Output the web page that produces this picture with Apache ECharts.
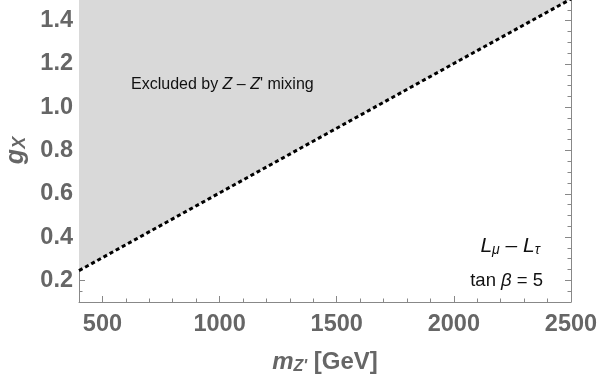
<!DOCTYPE html>
<html><head><meta charset="utf-8">
<script src="https://cdn.jsdelivr.net/npm/echarts@6/dist/echarts.min.js"></script>
<style>html,body{margin:0;padding:0;background:#fff}#c{width:599px;height:383px}</style>
</head><body><div id="c"></div>
<script>
// Boundary of the Z - Z' mixing exclusion (m_Z' in GeV, g_X)
const mass = [400, 1000, 1500, 2000, 2500];
const gX = [0.245, 0.604, 0.903, 1.202, 1.50];
// Ticks
const xMajorTicks = [500, 1000, 1500, 2000, 2500];
const xMinorTicks = [500, 600, 700, 800, 900, 1000, 1100, 1200, 1300, 1400, 1500, 1600, 1700, 1800, 1900, 2000, 2100, 2200, 2300, 2400, 2500];
const yMajorTicks = [0.2, 0.4, 0.6, 0.8, 1.0, 1.2, 1.4];
const yMinorTicks = [0.15, 0.2, 0.25, 0.3, 0.35, 0.4, 0.45, 0.5, 0.55, 0.6, 0.65, 0.7, 0.75, 0.8, 0.85, 0.9, 0.95, 1.0, 1.05, 1.1, 1.15, 1.2, 1.25, 1.3, 1.35, 1.4, 1.45];
const xRange = [400, 2500];
const yRange = [0.1, 1.5];

const FONT = '"Liberation Sans", Arial, sans-serif';
const AX = '#888888';
const LBL = '#666666';

function xAx(pos, major, show) {
  return {
    type: 'value', position: pos, min: xRange[0], max: xRange[1],
    axisLine: { show: show, lineStyle: { color: AX, width: 1 } },
    axisTick: { show: true, inside: true, length: major ? 6 : 3.5, customValues: major ? xMajorTicks : xMinorTicks, lineStyle: { color: AX, width: 1 } },
    axisLabel: { show: false },
    splitLine: { show: false }
  };
}
function yAx(pos, major, show) {
  return {
    type: 'value', position: pos, min: yRange[0], max: yRange[1],
    axisLine: { show: show, lineStyle: { color: AX, width: 1 } },
    axisTick: { show: true, inside: true, length: major ? 6 : 3.5, customValues: major ? yMajorTicks : yMinorTicks, lineStyle: { color: AX, width: 1 } },
    axisLabel: { show: false },
    splitLine: { show: false }
  };
}

const xMain = xAx('bottom', true, true);
xMain.axisLabel = { show: true, customValues: xMajorTicks, color: LBL, fontFamily: FONT, fontWeight: 'bold', fontSize: 23.5, margin: 11, formatter: v => String(v) };
xMain.name = '{m|m}{sub|Z\'}{u|\u00a0[GeV]}';
xMain.nameLocation = 'middle';
xMain.nameGap = 48;
xMain.nameTextStyle = {
  rich: {
    m: { fontFamily: FONT, fontSize: 24, fontStyle: 'italic', fontWeight: 'bold', color: LBL },
    sub: { fontFamily: FONT, fontSize: 16, fontStyle: 'italic', fontWeight: 'bold', color: LBL, padding: [9, 0, 0, 0] },
    u: { fontFamily: FONT, fontSize: 24, fontWeight: 'bold', color: LBL }
  }
};

const yMain = yAx('left', true, true);
yMain.axisLabel = { show: true, customValues: yMajorTicks, color: LBL, fontFamily: FONT, fontWeight: 'bold', fontSize: 23.5, margin: 6, formatter: v => v.toFixed(1) };
yMain.name = '{g|g}{sub|X}';
yMain.nameLocation = 'middle';
yMain.nameRotate = 90;
yMain.nameGap = 43;
yMain.nameTextStyle = {
  rich: {
    g: { fontFamily: FONT, fontSize: 25, fontStyle: 'italic', fontWeight: 'bold', color: LBL },
    sub: { fontFamily: FONT, fontSize: 18, fontStyle: 'italic', fontWeight: 'bold', color: LBL, padding: [8, 0, 0, 0] }
  }
};

const chart = echarts.init(document.getElementById('c'), null, { renderer: 'canvas' });
chart.setOption({
  animation: false,
  backgroundColor: '#ffffff',
  grid: { left: 79, right: 28, top: -1, bottom: 81, outerBoundsMode: 'none', containLabel: false },
  xAxis: [xMain, xAx('bottom', false, false), xAx('top', true, true), xAx('top', false, false)],
  yAxis: [yMain, yAx('left', false, false), yAx('right', true, true), yAx('right', false, false)],
  series: [{
    type: 'line',
    xAxisIndex: 0, yAxisIndex: 0,
    data: mass.map((m, i) => [m, gX[i]]),
    symbol: 'none',
    clip: true,
    lineStyle: { color: '#000000', width: 3, type: [4, 3] },
    areaStyle: { origin: 'end', color: '#d9d9d9', opacity: 1 },
    z: 2
  }],
  graphic: [
    { type: 'text', left: 131, top: 77, z: 10, style: { text: '{n|Excluded by }{i|Z}{n| – }{i|Z}{n|\' mixing}', rich: {
      n: { fontFamily: FONT, fontSize: 16, fill: '#111' }, i: { fontFamily: FONT, fontSize: 16, fontStyle: 'italic', fill: '#111' } } } },
    { type: 'text', right: 59, top: 236, z: 10, style: { text: '{L|L}{s|μ}{L| – L}{s|τ}', align: 'right', rich: {
      L: { fontFamily: FONT, fontSize: 21, fontStyle: 'italic', fill: '#111' }, s: { fontFamily: FONT, fontSize: 14, fontStyle: 'italic', fill: '#111', padding: [8, 0, 0, 0] } } } },
    { type: 'text', right: 56, top: 271, z: 10, style: { text: '{n|tan }{i|β}{n| = 5}', rich: {
      n: { fontFamily: FONT, fontSize: 18.5, fill: '#111' }, i: { fontFamily: FONT, fontSize: 18.5, fontStyle: 'italic', fill: '#111' } } } }
  ]
});
</script></body></html>
